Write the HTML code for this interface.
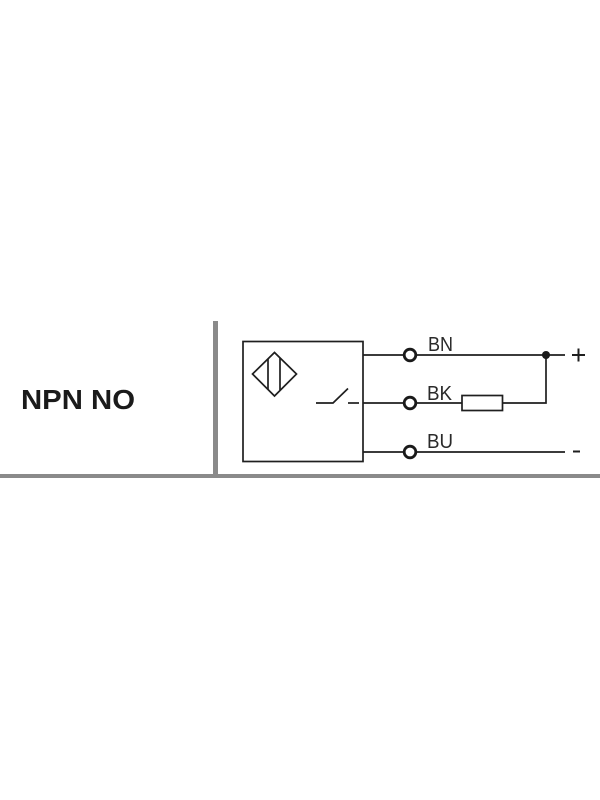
<!DOCTYPE html>
<html>
<head>
<meta charset="utf-8">
<style>
html,body{margin:0;padding:0;background:#fff;}
body{width:600px;height:800px;overflow:hidden;}
svg{display:block;}
.t{font-family:"Liberation Sans",Arial,sans-serif;}
</style>
</head>
<body>
<svg width="600" height="800" viewBox="0 0 600 800" xmlns="http://www.w3.org/2000/svg">
  <rect width="600" height="800" fill="#ffffff"/>
  <!-- gray separators -->
  <rect x="213" y="321" width="5" height="155" fill="#8a8a8a"/>
  <rect x="0" y="474" width="600" height="4" fill="#8a8a8a"/>

  <!-- label -->
  <text class="t" x="21" y="409" font-weight="bold" font-size="28" fill="#1a1a1a" textLength="114" lengthAdjust="spacingAndGlyphs">NPN NO</text>

  <g stroke="#1f1f1f" fill="none" stroke-width="1.7">
    <!-- sensor box -->
    <rect x="243" y="341.5" width="120" height="120"/>
    <!-- diamond -->
    <polygon points="252.5,374 274.5,352.5 296.5,374 274.5,396"/>
    <line x1="268" y1="358.5" x2="268" y2="389.5"/>
    <line x1="280" y1="358" x2="280" y2="390"/>
    <!-- switch -->
    <polyline points="316,403 333,403 348,388.5"/>
    <line x1="348" y1="403" x2="359" y2="403"/>
    <!-- wires -->
    <line x1="363" y1="355" x2="404" y2="355"/>
    <line x1="363" y1="403" x2="404" y2="403"/>
    <line x1="363" y1="452" x2="404" y2="452"/>
    <line x1="416" y1="355" x2="565" y2="355"/>
    <line x1="416" y1="403" x2="462" y2="403"/>
    <rect x="462" y="395.5" width="40.5" height="15"/>
    <polyline points="502.5,403 546,403 546,355"/>
    <line x1="416" y1="452" x2="565" y2="452"/>
  </g>
  <!-- terminals -->
  <g stroke="#1a1a1a" stroke-width="2.8" fill="#fff">
    <circle cx="410" cy="355" r="5.8"/>
    <circle cx="410" cy="403" r="5.8"/>
    <circle cx="410" cy="452" r="5.8"/>
  </g>
  <circle cx="546" cy="355" r="4" fill="#1a1a1a"/>

  <!-- plus / minus -->
  <g stroke="#1f1f1f" stroke-width="2">
    <line x1="572" y1="355" x2="585" y2="355"/>
    <line x1="578.5" y1="348.5" x2="578.5" y2="361.5"/>
    <line x1="573" y1="451.5" x2="580" y2="451.5"/>
  </g>

  <!-- wire labels -->
  <g class="t" font-size="20" fill="#2a2a2a">
    <text x="428" y="351" textLength="25" lengthAdjust="spacingAndGlyphs">BN</text>
    <text x="427" y="400" textLength="25" lengthAdjust="spacingAndGlyphs">BK</text>
    <text x="427" y="448" textLength="26" lengthAdjust="spacingAndGlyphs">BU</text>
  </g>
</svg>
</body>
</html>
